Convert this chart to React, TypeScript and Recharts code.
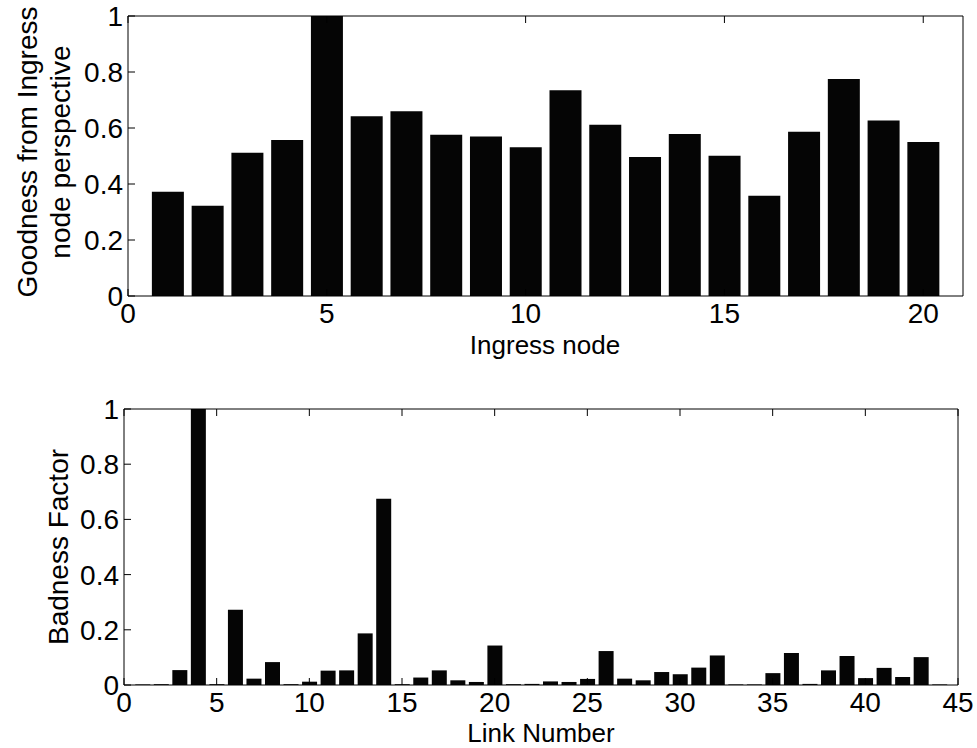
import { BarChart, Bar, XAxis, YAxis } from "recharts";

const INGRESS_NODES = [1, 2, 3, 4, 5, 6, 7, 8, 9, 10, 11, 12, 13, 14, 15, 16, 17, 18, 19, 20];
const GOODNESS = [
  0.372, 0.322, 0.512, 0.557, 1.0, 0.642, 0.66, 0.576, 0.57, 0.531,
  0.735, 0.612, 0.496, 0.579, 0.501, 0.358, 0.587, 0.775, 0.627, 0.55,
];

const LINK_NUMBERS = [
  1, 2, 3, 4, 5, 6, 7, 8, 9, 10, 11, 12, 13, 14, 15, 16, 17, 18, 19, 20, 21, 22,
  23, 24, 25, 26, 27, 28, 29, 30, 31, 32, 33, 34, 35, 36, 37, 38, 39, 40, 41, 42, 43, 44,
];
const BADNESS = [
  0.002, 0.003, 0.054, 1.0, 0.003, 0.273, 0.023, 0.083, 0.003, 0.012, 0.052,
  0.053, 0.187, 0.675, 0.003, 0.027, 0.053, 0.017, 0.011, 0.143, 0.003, 0.004,
  0.013, 0.011, 0.022, 0.123, 0.023, 0.017, 0.047, 0.039, 0.063, 0.107, 0.002,
  0.002, 0.043, 0.116, 0.004, 0.053, 0.105, 0.025, 0.062, 0.029, 0.101, 0.002,
];

const TOP_X_TICKS = [0, 5, 10, 15, 20];
const BOTTOM_X_TICKS = [0, 5, 10, 15, 20, 25, 30, 35, 40, 45];
const Y_TICKS = [0, 0.2, 0.4, 0.6, 0.8, 1];

const FONT = "'Liberation Sans', Arial, Helvetica, sans-serif";
const FS = 28;
const LABEL_FS = 26;
const TICK_LEN = 7;

const goodnessRows = INGRESS_NODES.map((n, i) => ({ node: n, value: GOODNESS[i] }));
const badnessRows = LINK_NUMBERS.map((n, i) => ({ link: n, value: BADNESS[i] }));

// ticks drawn inward, MATLAB style
function BottomTick({ x, y, payload }: any) {
  return (
    <g>
      <line x1={x} y1={y} x2={x} y2={y - TICK_LEN} stroke="#000" />
      <text x={x} y={y + 27} textAnchor="middle" fontFamily={FONT} fontSize={FS} fill="#000">
        {String(payload.value)}
      </text>
    </g>
  );
}

function TopTick({ x, y }: any) {
  return <line x1={x} y1={y} x2={x} y2={y + TICK_LEN} stroke="#000" />;
}

function LeftTick({ x, y, payload }: any) {
  return (
    <g>
      <line x1={x} y1={y} x2={x + TICK_LEN} y2={y} stroke="#000" />
      <text x={x - 5} y={y + 10} textAnchor="end" fontFamily={FONT} fontSize={FS} fill="#000">
        {String(payload.value)}
      </text>
    </g>
  );
}

function RightTick({ x, y }: any) {
  return <line x1={x} y1={y} x2={x - TICK_LEN} y2={y} stroke="#000" />;
}

function RotLabel({ lines, cy }: { lines: { x: number; text: string }[]; cy: number }) {
  return (
    <g>
      {lines.map((l) => (
        <text
          key={l.text}
          x={l.x}
          y={cy}
          transform={`rotate(-90 ${l.x} ${cy})`}
          textAnchor="middle"
          fontFamily={FONT}
          fontSize={FS}
          fill="#000"
        >
          {l.text}
        </text>
      ))}
    </g>
  );
}

export default function App() {
  const axisLine = { stroke: "#000", strokeWidth: 1 };
  return (
    <div style={{ position: "absolute", left: 0, top: 0, width: 977, height: 748, background: "#fff" }}>
      <div style={{ position: "absolute", left: 0, top: 0 }}>
        <BarChart width={977} height={370} data={goodnessRows} margin={{ top: 15, right: 13, left: 0, bottom: 14 }}>
          <XAxis
            xAxisId="b"
            dataKey="node"
            type="number"
            domain={[0, 21]}
            ticks={TOP_X_TICKS}
            interval={0}
            height={60}
            tickSize={0}
            tickMargin={0}
            axisLine={axisLine}
            tickLine={false}
            tick={<BottomTick />}
            label={{
              content: () => (
                <text x={545} y={354} textAnchor="middle" fontFamily={FONT} fontSize={LABEL_FS} fill="#000">
                  Ingress node
                </text>
              ),
            }}
          />
          <XAxis
            xAxisId="t"
            orientation="top"
            dataKey="node"
            type="number"
            domain={[0, 21]}
            ticks={TOP_X_TICKS}
            interval={0}
            height={1}
            tickSize={0}
            tickMargin={0}
            axisLine={axisLine}
            tickLine={false}
            tick={<TopTick />}
          />
          <YAxis
            yAxisId="l"
            type="number"
            domain={[0, 1]}
            ticks={Y_TICKS}
            interval={0}
            width={128}
            tickSize={0}
            tickMargin={0}
            axisLine={axisLine}
            tickLine={false}
            tick={<LeftTick />}
            label={{
              content: () => (
                <RotLabel
                  cy={152}
                  lines={[
                    { x: 37, text: "Goodness from Ingress" },
                    { x: 70, text: "node perspective" },
                  ]}
                />
              ),
            }}
          />
          <YAxis
            yAxisId="r"
            orientation="right"
            type="number"
            domain={[0, 1]}
            ticks={Y_TICKS}
            interval={0}
            width={1}
            tickSize={0}
            tickMargin={0}
            axisLine={axisLine}
            tickLine={false}
            tick={<RightTick />}
          />
          <Bar xAxisId="b" yAxisId="l" dataKey="value" fill="#050505" barSize={32} isAnimationActive={false} />
        </BarChart>
      </div>
      <div style={{ position: "absolute", left: 0, top: 380 }}>
        <BarChart width={977} height={368} data={badnessRows} margin={{ top: 28, right: 18, left: 0, bottom: 13 }}>
          <XAxis
            xAxisId="b"
            dataKey="link"
            type="number"
            domain={[0, 45]}
            ticks={BOTTOM_X_TICKS}
            interval={0}
            height={50}
            tickSize={0}
            tickMargin={0}
            axisLine={axisLine}
            tickLine={false}
            tick={<BottomTick />}
            label={{
              content: () => (
                <text x={541} y={362} textAnchor="middle" fontFamily={FONT} fontSize={LABEL_FS} fill="#000">
                  Link Number
                </text>
              ),
            }}
          />
          <XAxis
            xAxisId="t"
            orientation="top"
            dataKey="link"
            type="number"
            domain={[0, 45]}
            ticks={BOTTOM_X_TICKS}
            interval={0}
            height={1}
            tickSize={0}
            tickMargin={0}
            axisLine={axisLine}
            tickLine={false}
            tick={<TopTick />}
          />
          <YAxis
            yAxisId="l"
            type="number"
            domain={[0, 1]}
            ticks={Y_TICKS}
            interval={0}
            width={124}
            tickSize={0}
            tickMargin={0}
            axisLine={axisLine}
            tickLine={false}
            tick={<LeftTick />}
            label={{
              content: () => <RotLabel cy={167} lines={[{ x: 68, text: "Badness Factor" }]} />,
            }}
          />
          <YAxis
            yAxisId="r"
            orientation="right"
            type="number"
            domain={[0, 1]}
            ticks={Y_TICKS}
            interval={0}
            width={1}
            tickSize={0}
            tickMargin={0}
            axisLine={axisLine}
            tickLine={false}
            tick={<RightTick />}
          />
          <Bar xAxisId="b" yAxisId="l" dataKey="value" fill="#050505" barSize={15} isAnimationActive={false} />
        </BarChart>
      </div>
    </div>
  );
}
